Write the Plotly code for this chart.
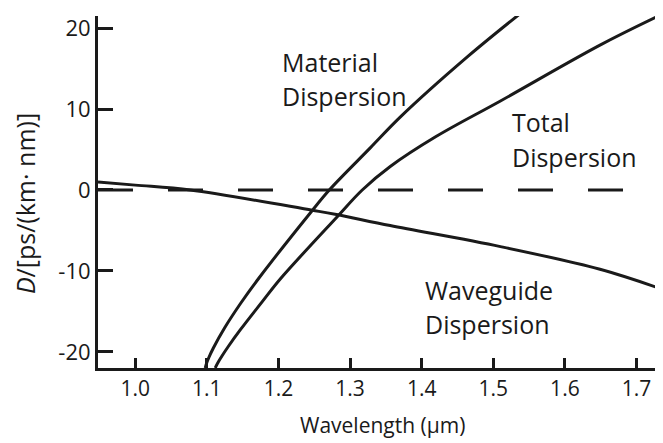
import plotly.graph_objects as go

# Data (wavelength in µm, D in ps/(km·nm))
material_wl = [1.0978, 1.0993, 1.1025, 1.1091, 1.1247, 1.1475, 1.1728, 1.2444, 1.2710,
               1.3282, 1.3700, 1.4637, 1.5405]
material_d = [-22.0, -21.5, -20.76, -19.53, -17.06, -13.97, -10.88, -2.84, 0.0,
              5.2, 9.0, 16.44, 22.0]

total_wl = [1.1117, 1.1152, 1.1211, 1.1304, 1.1466, 1.1774, 1.2025, 1.2821, 1.3170,
            1.3561, 1.4200, 1.5100, 1.6490, 1.7330]
total_d = [-22.0, -21.38, -20.52, -19.28, -17.30, -13.80, -11.00, -3.3, 0.0,
           2.9, 6.6, 11.0, 17.9, 21.6]

waveguide_wl = [0.948, 1.0, 1.077, 1.247, 1.279, 1.356, 1.510, 1.649, 1.737]
waveguide_d = [1.0, 0.6, 0.0, -2.5, -3.0, -4.4, -7.0, -9.8, -12.3]

zero_wl = [0.948, 1.737]
zero_d = [0, 0]

x_ticks = [1.0, 1.1, 1.2, 1.3, 1.4, 1.5, 1.6, 1.7]
x_labels = ["1.0", "1.1", "1.2", "1.3", "1.4", "1.5", "1.6", "1.7"]
y_ticks = [-20, -10, 0, 10, 20]
y_labels = ["-20", "-10", "0", "10", "20"]

FONT = "Open Sans"
INK = "#1a1a1a"

fig = go.Figure()
fig.add_trace(go.Scatter(x=zero_wl, y=zero_d, mode="lines",
                         line=dict(color=INK, width=3, dash="35px,35px"),
                         hoverinfo="skip"))
fig.add_trace(go.Scatter(x=waveguide_wl, y=waveguide_d, mode="lines",
                         line=dict(color=INK, width=3, shape="spline", smoothing=1.0)))
fig.add_trace(go.Scatter(x=material_wl, y=material_d, mode="lines",
                         line=dict(color=INK, width=3, shape="spline", smoothing=1.0)))
fig.add_trace(go.Scatter(x=total_wl, y=total_d, mode="lines",
                         line=dict(color=INK, width=3, shape="spline", smoothing=1.0)))

labels = [
    ("Material", 1.2025, 15.8),
    ("Dispersion", 1.2025, 11.6),
    ("Total", 1.524, 8.4),
    ("Dispersion", 1.524, 4.1),
    ("Waveguide", 1.402, -12.3),
    ("Dispersion", 1.402, -16.6),
]
for txt, x, y in labels:
    fig.add_annotation(x=x, y=y, text=txt, showarrow=False, xanchor="left",
                       yanchor="middle", font=dict(family=FONT, size=25, color=INK))

fig.add_annotation(xref="paper", yref="paper", x=0.504, y=-0.162, text="Wavelength (µm)",
                   showarrow=False, xanchor="center", yanchor="middle",
                   font=dict(family=FONT, size=21, color=INK))
fig.add_annotation(xref="paper", yref="paper", x=-0.129, y=0.466,
                   text="<i>D</i>/[ps/(km· nm)]", textangle=-90,
                   showarrow=False, xanchor="center", yanchor="middle",
                   font=dict(family=FONT, size=25, color=INK))

# page body has an 8px margin; size the figure to fit inside the window
fig.update_layout(
    width=655, height=435,
    margin=dict(l=90, r=0, t=8, b=75),
    paper_bgcolor="white", plot_bgcolor="white",
    showlegend=False,
    font=dict(family=FONT, color=INK),
)
fig.update_xaxes(range=[0.948, 1.737], tickvals=x_ticks, ticktext=x_labels,
                 showgrid=False, zeroline=False, showline=True, linecolor=INK, linewidth=3,
                 ticks="inside", ticklen=10, tickwidth=3, tickcolor=INK,
                 tickfont=dict(family=FONT, size=21, color=INK))
fig.update_yaxes(range=[-22, 21.5], tickvals=y_ticks, ticktext=y_labels,
                 showgrid=False, zeroline=False, showline=True, linecolor=INK, linewidth=3,
                 ticks="inside", ticklen=15, tickwidth=3, tickcolor=INK,
                 tickfont=dict(family=FONT, size=22, color=INK))

fig.write_html("out.html")
